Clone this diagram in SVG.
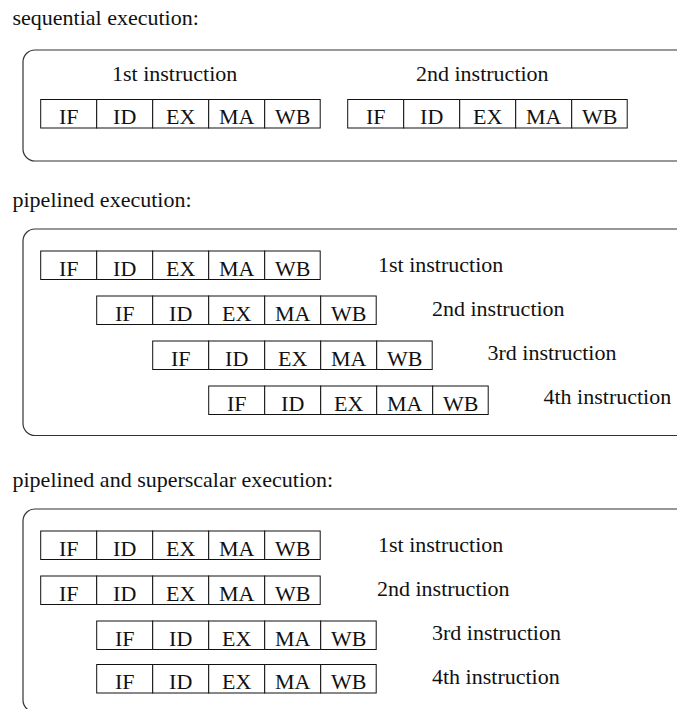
<svg xmlns="http://www.w3.org/2000/svg" width="677" height="709" viewBox="0 0 677 709" font-family="'Liberation Serif', 'DejaVu Serif', serif">
  <style>
    text { font-family: 'Liberation Serif', 'DejaVu Serif', serif; fill: #111; }
    .title, .lbl { font-size: 22px; }
    .stage { font-size: 22px; text-anchor: middle; }
    .frame { fill: none; stroke: #333; stroke-width: 1.2; }
    .cell { fill: #fff; stroke: #111; stroke-width: 1; }
  </style>
  <defs>
    <!-- one five-stage instruction: IF ID EX MA WB, 56 px per stage -->
    <g id="pipe">
      <rect class="cell" x="0" y="0" width="56" height="28.5"/>
      <rect class="cell" x="56" y="0" width="56" height="28.5"/>
      <rect class="cell" x="112" y="0" width="56" height="28.5"/>
      <rect class="cell" x="168" y="0" width="56" height="28.5"/>
      <rect class="cell" x="224" y="0" width="55.5" height="28.5"/>
      <text class="stage" x="28" y="24.5">IF</text>
      <text class="stage" x="84" y="24.5">ID</text>
      <text class="stage" x="140" y="24.5">EX</text>
      <text class="stage" x="196" y="24.5">MA</text>
      <text class="stage" x="252" y="24.5">WB</text>
    </g>
  </defs>

  <!-- section 1: sequential -->
  <text class="title" x="12.5" y="25">sequential execution:</text>
  <rect id="seq-frame" class="frame" x="23" y="50" width="700" height="111" rx="12" ry="12"/>
  <g id="seq-i1">
    <text class="lbl" x="112" y="80.5">1st instruction</text>
    <use href="#pipe" x="40.7" y="99.5"/>
  </g>
  <g id="seq-i2">
    <text class="lbl" x="416" y="80.5">2nd instruction</text>
    <use href="#pipe" x="347.7" y="99.5"/>
  </g>

  <!-- section 2: pipelined -->
  <text class="title" x="12.5" y="207">pipelined execution:</text>
  <rect id="pipe-frame" class="frame" x="23" y="229" width="700" height="206.5" rx="12" ry="12"/>
  <g id="pipe-i1">
    <use href="#pipe" x="40.7" y="251"/>
    <text class="lbl" x="378" y="272">1st instruction</text>
  </g>
  <g id="pipe-i2">
    <use href="#pipe" x="96.7" y="296"/>
    <text class="lbl" x="432" y="315.5">2nd instruction</text>
  </g>
  <g id="pipe-i3">
    <use href="#pipe" x="152.7" y="341"/>
    <text class="lbl" x="487.5" y="359.5">3rd instruction</text>
  </g>
  <g id="pipe-i4">
    <use href="#pipe" x="208.7" y="386"/>
    <text class="lbl" x="543.5" y="403.5">4th instruction</text>
  </g>

  <!-- section 3: pipelined + superscalar (two issue slots) -->
  <text class="title" x="12.5" y="487">pipelined and superscalar execution:</text>
  <rect id="ss-frame" class="frame" x="23" y="509" width="700" height="203" rx="12" ry="12"/>
  <g id="ss-i1">
    <use href="#pipe" x="40.7" y="531"/>
    <text class="lbl" x="378" y="552">1st instruction</text>
  </g>
  <g id="ss-i2">
    <use href="#pipe" x="40.7" y="576"/>
    <text class="lbl" x="377" y="596">2nd instruction</text>
  </g>
  <g id="ss-i3">
    <use href="#pipe" x="96.7" y="621"/>
    <text class="lbl" x="432" y="639.5">3rd instruction</text>
  </g>
  <g id="ss-i4">
    <use href="#pipe" x="96.7" y="664.5"/>
    <text class="lbl" x="432" y="683.5">4th instruction</text>
  </g>
</svg>
